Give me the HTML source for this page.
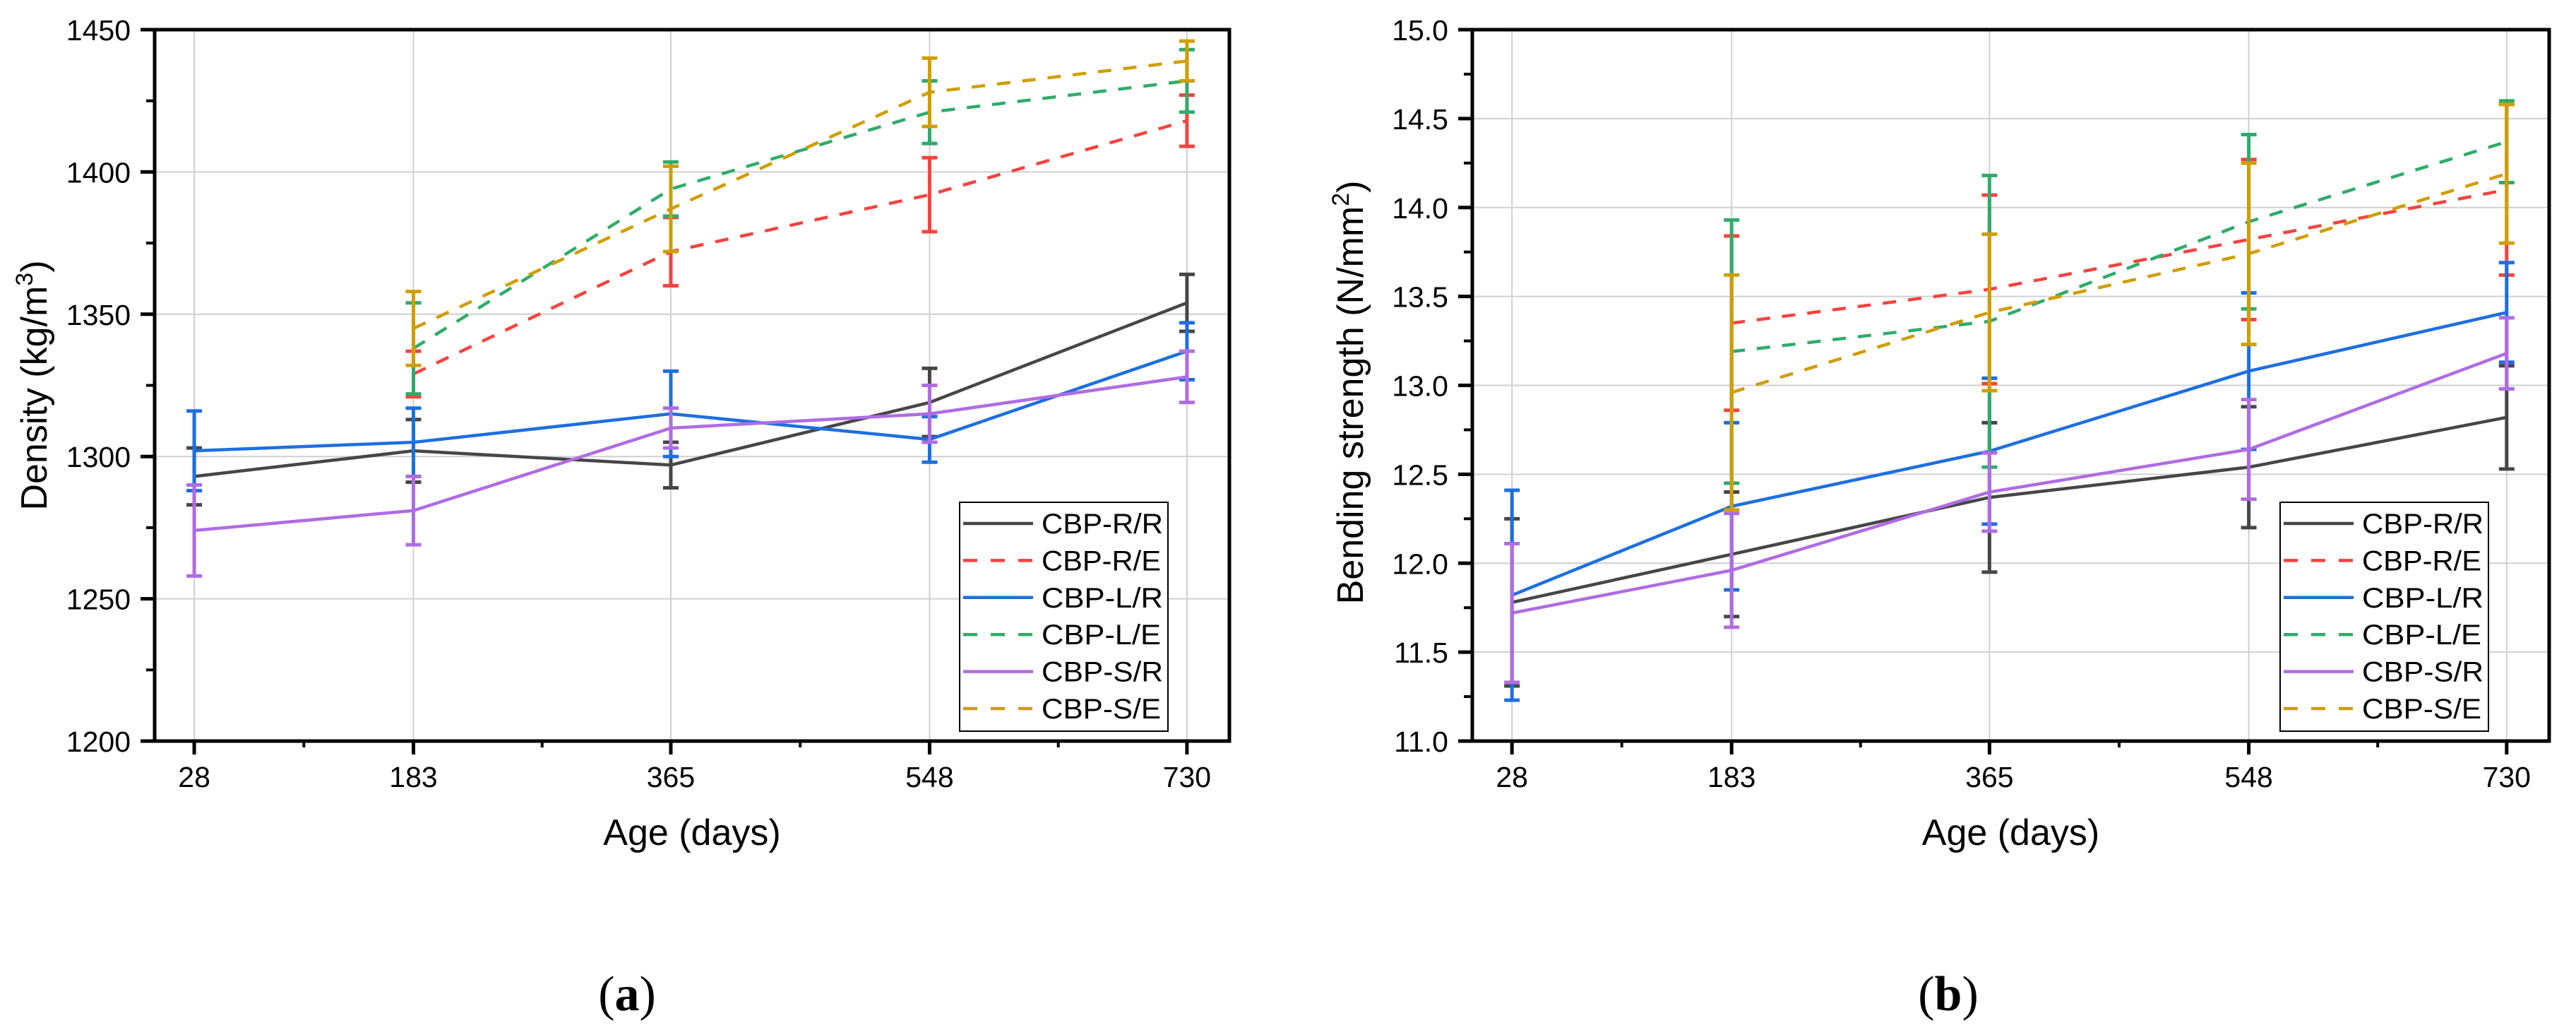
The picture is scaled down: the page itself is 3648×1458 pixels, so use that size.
<!DOCTYPE html>
<html><head><meta charset="utf-8"><style>
html,body{margin:0;padding:0;background:#fff;}
svg{display:block;font-family:"Liberation Sans",Arial,sans-serif;}
</style></head><body>
<svg id="fig" width="3648" height="1458" viewBox="0 0 3648 1458" xmlns="http://www.w3.org/2000/svg">
<text x="888" y="1430" text-anchor="middle" font-family="Liberation Serif, serif" font-size="70">(<tspan font-weight="bold">a</tspan>)</text>
<text x="2759" y="1430" text-anchor="middle" font-family="Liberation Serif, serif" font-size="70">(<tspan font-weight="bold">b</tspan>)</text>
</svg>
<script>
const ages = [28, 183, 365, 548, 730];
const seriesNames = ["CBP-R/R","CBP-R/E","CBP-L/R","CBP-L/E","CBP-S/R","CBP-S/E"];
const densityRR = [1293,1302,1297,1319,1354];
const densityRRerr = [10,11,8,12,10];
const densityRE = [null,1329,1372,1392,1418];
const densityREerr = [null,8,12,13,9];
const densityLR = [1302,1305,1315,1306,1337];
const densityLRerr = [14,12,15,8,10];
const densityLE = [null,1338,1394,1421,1432];
const densityLEerr = [null,16,9.5,11,11];
const densitySR = [1274,1281,1310,1315,1328];
const densitySRerr = [16,12,7,10,9];
const densitySE = [null,1345,1387,1428,1439];
const densitySEerr = [null,13,15,12,7];
const bendRR = [11.78,12.05,12.37,12.54,12.82];
const bendRRerr = [0.47,0.35,0.42,0.34,0.29];
const bendRE = [null,13.35,13.54,13.82,14.10];
const bendREerr = [null,0.49,0.53,0.45,0.48];
const bendLR = [11.82,12.32,12.63,13.08,13.41];
const bendLRerr = [0.59,0.47,0.41,0.44,0.28];
const bendLE = [null,13.19,13.36,13.92,14.37];
const bendLEerr = [null,0.74,0.82,0.49,0.23];
const bendSR = [11.72,11.96,12.40,12.64,13.18];
const bendSRerr = [0.39,0.32,0.22,0.28,0.20];
const bendSE = [null,12.96,13.41,13.74,14.19];
const bendSEerr = [null,0.66,0.44,0.51,0.39];
const densityTicks = [1200,1250,1300,1350,1400,1450];
const bendTicks = [11.0,11.5,12.0,12.5,13.0,13.5,14.0,14.5,15.0];
const bendTickLabels = ["11.0","11.5","12.0","12.5","13.0","13.5","14.0","14.5","15.0"];

const colors = ["#464646","#f5433f","#1d6fe0","#2fac6a","#b06ce3","#d09e00"];
const dashed = [false,true,false,true,false,true];
const NS = "http://www.w3.org/2000/svg";
const svg = document.getElementById("fig");
function mk(tag, attrs, parent){
  const e = document.createElementNS(NS, tag);
  for (const k in attrs) e.setAttribute(k, attrs[k]);
  (parent||svg).appendChild(e);
  return e;
}
function chart(cfg){
  const g = mk("g",{});
  
  
  const L=cfg.left,R=cfg.right,T=42,B=1049;
  const xs = d => L + (d-0)/(760-0)*(R-L);
  const ys = v => B - (v-cfg.ymin)/(cfg.ymax-cfg.ymin)*(B-T);
  cfg.ticks.forEach((t,i)=>{
    const ln = mk("line",{x1:L,x2:R,y1:ys(t),y2:ys(t),stroke:"#d0d0d0","stroke-width":2},g);
    
    
    const tk = mk("line",{x1:L-20,x2:L,y1:ys(t),y2:ys(t),stroke:"#000","stroke-width":5},g);
    
    
    const tx = mk("text",{x:L-34,y:ys(t)+15,"text-anchor":"end","font-size":41},g);
    tx.textContent = cfg.labels[i];
    
    
    if (i < cfg.ticks.length-1){
      const m = mk("line",{x1:L-12,x2:L,y1:ys((t+cfg.ticks[i+1])/2),y2:ys((t+cfg.ticks[i+1])/2),stroke:"#000","stroke-width":4},g);
      
      
    }
  });
  ages.forEach((a,i)=>{
    const ln = mk("line",{x1:xs(a),x2:xs(a),y1:T,y2:B,stroke:"#d0d0d0","stroke-width":2},g);
    
    
    const tk = mk("line",{x1:xs(a),x2:xs(a),y1:B,y2:B+19,stroke:"#000","stroke-width":5},g);
    
    
    const tx = mk("text",{x:xs(a),y:B+65,"text-anchor":"middle","font-size":41},g);
    tx.textContent = String(a);
    
    
    if (i < ages.length-1){
      const mx = xs((a+ages[i+1])/2);
      const m = mk("line",{x1:mx,x2:mx,y1:B,y2:B+9,stroke:"#000","stroke-width":4},g);
      
      
    }
  });
  cfg.series.forEach((s,si)=>{
    const sg = mk("g",{},g);
    
    
    const pts = [];
    s.vals.forEach((v,i)=>{
      if (v===null) return;
      pts.push(xs(ages[i])+","+ys(v));
      const e = s.err[i], x = xs(ages[i]);
      const eb = mk("path",{d:`M${x},${ys(v+e)}L${x},${ys(v-e)}M${x-11},${ys(v+e)}L${x+11},${ys(v+e)}M${x-11},${ys(v-e)}L${x+11},${ys(v-e)}`,stroke:colors[si],"stroke-width":5,fill:"none"},sg);
      
      
    });
    const pl = mk("polyline",{points:pts.join(" "),stroke:colors[si],"stroke-width":4.5,fill:"none"},sg);
    if (dashed[si]) pl.setAttribute("stroke-dasharray","19 17");
    
    
  });
  const fr = mk("rect",{x:L,y:T,width:R-L,height:B-T,fill:"none",stroke:"#000","stroke-width":5},g);
  
  
  const xa = mk("line",{x1:L-20,x2:R,y1:B,y2:B,stroke:"#000","stroke-width":5},g);
  
  
  const xt = mk("text",{x:(L+R)/2,y:1196,"text-anchor":"middle","font-size":52},g);
  xt.textContent = "Age (days)";
  
  
  const yt = mk("text",{x:0,y:0,"text-anchor":"middle","font-size":52,transform:`translate(${cfg.ytx},${(T+B)/2+ cfg.ytdy}) rotate(-90)`},g);
  yt.innerHTML = cfg.ytitle;
  
  
  const lg = mk("g",{},g);
  
  
  mk("rect",{x:cfg.lx,y:711,width:295,height:324,fill:"#fff",stroke:"#000","stroke-width":2},lg);
  seriesNames.forEach((n,i)=>{
    const yy = 741 + i*52.4;
    const en = mk("g",{},lg);
    
    
    const l = mk("line",{x1:cfg.lx+5,x2:cfg.lx+104,y1:yy,y2:yy,stroke:colors[i],"stroke-width":4.5},en);
    if (dashed[i]) l.setAttribute("stroke-dasharray","20 19");
    const t = mk("text",{x:cfg.lx+116,y:yy+14,"font-size":40,textLength:(n.endsWith("E")?169:172),lengthAdjust:"spacingAndGlyphs"},en);
    t.textContent = n;
  });
}
chart({name:"density-chart",left:219,right:1741,ymin:1200,ymax:1450,ticks:densityTicks,labels:densityTicks.map(String),
  series:[{vals:densityRR,err:densityRRerr},{vals:densityRE,err:densityREerr},{vals:densityLR,err:densityLRerr},{vals:densityLE,err:densityLEerr},{vals:densitySR,err:densitySRerr},{vals:densitySE,err:densitySEerr}],
  ytx:66,ytdy:0,ytitle:'Density (kg/m<tspan dy="-20" font-size="34">3</tspan><tspan dy="20">)</tspan>',lx:1359});
chart({name:"bending-strength-chart",left:2085,right:3610,ymin:11,ymax:15,ticks:bendTicks,labels:bendTickLabels,
  series:[{vals:bendRR,err:bendRRerr},{vals:bendRE,err:bendREerr},{vals:bendLR,err:bendLRerr},{vals:bendLE,err:bendLEerr},{vals:bendSR,err:bendSRerr},{vals:bendSE,err:bendSEerr}],
  ytx:1930,ytdy:10,ytitle:'Bending strength (N/mm<tspan dy="-20" font-size="34">2</tspan><tspan dy="20">)</tspan>',lx:3229});
</script>
</body></html>
